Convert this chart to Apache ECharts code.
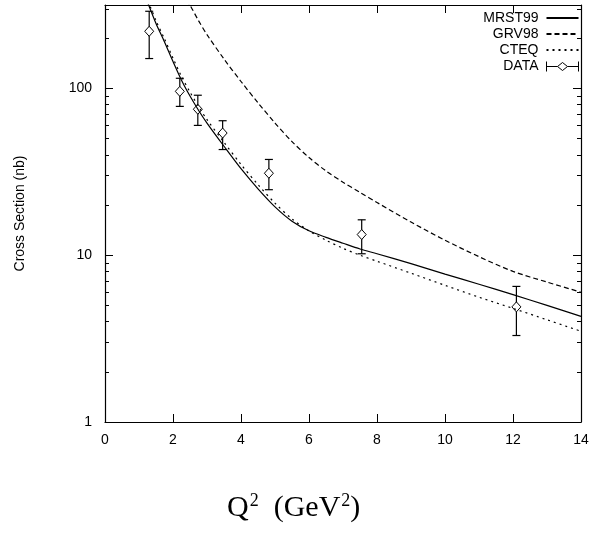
<!DOCTYPE html>
<html><head><meta charset="utf-8">
<script src="https://cdn.jsdelivr.net/npm/echarts@6/dist/echarts.min.js"></script>
<style>html,body{margin:0;padding:0;background:#fff}#c{width:592px;height:533px}</style>
</head><body><div id="c"></div>
<script>
const xTicks = [0, 2, 4, 6, 8, 10, 12, 14];
const yMajor = [1, 10, 100];
const yMinor = [2,3,4,5,6,7,8,9,20,30,40,50,60,70,80,90,200,300];

const mrstX = [1.2, 1.5, 1.75, 2.0, 2.25, 2.5, 2.75, 3.0, 3.5, 4.0, 4.5, 5.0, 5.5, 6.0, 6.5, 7.0, 7.5, 8.0, 9.0, 10.0, 11.0, 12.0, 13.0, 14.0];
const mrstY = [350, 245, 190, 145, 112, 90, 74, 62, 45, 33, 25, 19.5, 16, 14, 12.8, 11.8, 10.9, 10.2, 8.9, 7.7, 6.7, 5.8, 5.0, 4.3];

const grvX = [2.4, 2.5, 2.75, 3.0, 3.5, 4.0, 4.5, 5.0, 5.5, 6.0, 6.5, 7.0, 7.5, 8.0, 9.0, 10.0, 11.0, 12.0, 13.0, 14.0];
const grvY = [340, 316, 255, 210, 150, 110, 82, 62, 48, 38.5, 32, 27.4, 23.8, 20.7, 15.8, 12.3, 9.8, 8.0, 6.9, 6.0];

const cteqX = [1.2, 1.5, 1.75, 2.0, 2.25, 2.5, 2.75, 3.0, 3.5, 4.0, 4.5, 5.0, 5.5, 6.0, 6.5, 7.0, 7.5, 8.0, 9.0, 10.0, 11.0, 12.0, 13.0, 14.0];
const cteqY = [360, 255, 198, 152, 118, 95, 78, 65, 47.5, 35, 26.5, 20.5, 16.5, 14, 12.3, 11, 10, 9.2, 7.8, 6.6, 5.6, 4.8, 4.1, 3.5];

const dataX = [1.3, 2.2, 2.73, 3.46, 4.82, 7.55, 12.1];
const dataY = [220, 96, 75, 54, 31, 13.3, 4.9];
const dataLo = [151, 78, 60, 43, 24.7, 10.2, 3.3];
const dataHi = [290, 115, 91, 64, 37.5, 16.3, 6.5];

const yMin = 1, yMax = Math.pow(10, 2.5);
const font = 'Liberation Sans, Arial, sans-serif';

const zip = (xs, ys) => xs.map((x, i) => [x, ys[i]]);

const chart = echarts.init(document.getElementById('c'), null, {renderer: 'canvas'});

const lineAx = {show: true, onZero: false, lineStyle: {color: '#000', width: 1.2}};
const baseX = {type: 'value', min: xTicks[0], max: xTicks[xTicks.length-1], interval: 2,
  axisLine: lineAx, splitLine: {show: false},
  axisTick: {show: true, inside: true, length: 8, lineStyle: {color: '#000', width: 1}}};
const minorAx = pos => ({type: 'value', min: Math.log10(yMin), max: Math.log10(yMax), position: pos,
  axisLine: {show: false, onZero: false}, axisLabel: {show: false}, splitLine: {show: false},
  axisTick: {show: true, inside: true, length: 4, customValues: yMinor.map(v => Math.log10(v)), lineStyle: {color: '#000'}}});

const option = {
  animation: false,
  backgroundColor: '#fff',
  grid: {left: 105, right: 11, top: 5, bottom: 111, containLabel: false},
  title: {
    text: 'Q{sup|2}  (GeV{sup|2})',
    left: 222, top: 487,
    textStyle: {fontFamily: 'Liberation Serif, serif', fontSize: 30, fontWeight: 'normal', color: '#000',
      rich: {sup: {fontFamily: 'Liberation Serif, serif', fontSize: 18, verticalAlign: 'top', padding: [0,0,14,1], color: '#000'}}}
  },
  legend: {
    orient: 'vertical', right: 6, top: 6, align: 'right',
    itemWidth: 32, itemHeight: 10, itemGap: 2,
    itemStyle: {color: 'rgba(0,0,0,0)', borderWidth: 0, opacity: 0},
    textStyle: {fontFamily: font, fontSize: 14, color: '#000', padding: [0, 3, 0, 0]},
    data: [
      {name: 'MRST99'}, {name: 'GRV98'}, {name: 'CTEQ'},
      {name: 'DATA', icon: 'path://M0,0L0,10M0,5L11,5M21,5L32,5M32,0L32,10M16,1L21,5L16,9L11,5Z',
       itemStyle: {color: 'none', borderColor: '#000', borderWidth: 1, opacity: 1}}
    ]
  },
  xAxis: [
    Object.assign({}, baseX, {position: 'bottom',
      axisLabel: {show: true, fontFamily: font, fontSize: 14, color: '#000', margin: 11}}),
    Object.assign({}, baseX, {position: 'top', axisLabel: {show: false}})
  ],
  yAxis: [
    {type: 'log', logBase: 10, min: yMin, max: yMax, interval: 1, position: 'left',
     name: 'Cross Section (nb)', nameLocation: 'middle', nameGap: 78,
     nameTextStyle: {fontFamily: font, fontSize: 14, color: '#000'},
     axisLine: lineAx,
     axisTick: {show: true, inside: true, length: 8, lineStyle: {color: '#000'}},
     axisLabel: {show: true, fontFamily: font, fontSize: 14, color: '#000', margin: 13, showMaxLabel: false,
       formatter: v => String(Math.round(v))},
     splitLine: {show: false}},
    {type: 'log', logBase: 10, min: yMin, max: yMax, interval: 1, position: 'right',
     axisLine: lineAx,
     axisTick: {show: true, inside: true, length: 8, lineStyle: {color: '#000'}},
     axisLabel: {show: false}, splitLine: {show: false}},
    minorAx('left'),
    minorAx('right')
  ],
  series: [
    {name: 'MRST99', type: 'line', data: zip(mrstX, mrstY), smooth: 0.3, symbol: 'none', clip: true,
     lineStyle: {color: '#000', width: 1.2, type: 'solid'}, itemStyle: {color: '#000'}},
    {name: 'GRV98', type: 'line', data: zip(grvX, grvY), smooth: 0.3, symbol: 'none', clip: true,
     lineStyle: {color: '#000', width: 1.2, type: [5, 3]}, itemStyle: {color: '#000'}},
    {name: 'CTEQ', type: 'line', data: zip(cteqX, cteqY), smooth: 0.3, symbol: 'none', clip: true,
     lineStyle: {color: '#000', width: 1.2, type: [2, 4]}, itemStyle: {color: '#000'}},
    {name: 'DATA', type: 'custom', clip: true,
     itemStyle: {color: '#000'},
     encode: {x: 0, y: 1},
     data: dataX.map((x, i) => [x, dataY[i], dataLo[i], dataHi[i]]),
     renderItem: function (params, api) {
       const x = api.value(0), y = api.value(1), lo = api.value(2), hi = api.value(3);
       const p = api.coord([x, y]), pl = api.coord([x, lo]), ph = api.coord([x, hi]);
       const cw = 4, dx = 4.5, dy = 5;
       const st = {stroke: '#000', lineWidth: 1.2};
       return {type: 'group', children: [
         {type: 'line', shape: {x1: p[0], y1: pl[1], x2: p[0], y2: ph[1]}, style: st},
         {type: 'line', shape: {x1: p[0]-cw, y1: pl[1], x2: p[0]+cw, y2: pl[1]}, style: st},
         {type: 'line', shape: {x1: p[0]-cw, y1: ph[1], x2: p[0]+cw, y2: ph[1]}, style: st},
         {type: 'polygon', shape: {points: [[p[0], p[1]-dy], [p[0]+dx, p[1]], [p[0], p[1]+dy], [p[0]-dx, p[1]]]},
          style: {fill: '#fff', stroke: '#000', lineWidth: 1}}
       ]};
     }}
  ]
};
chart.setOption(option);
</script></body></html>
